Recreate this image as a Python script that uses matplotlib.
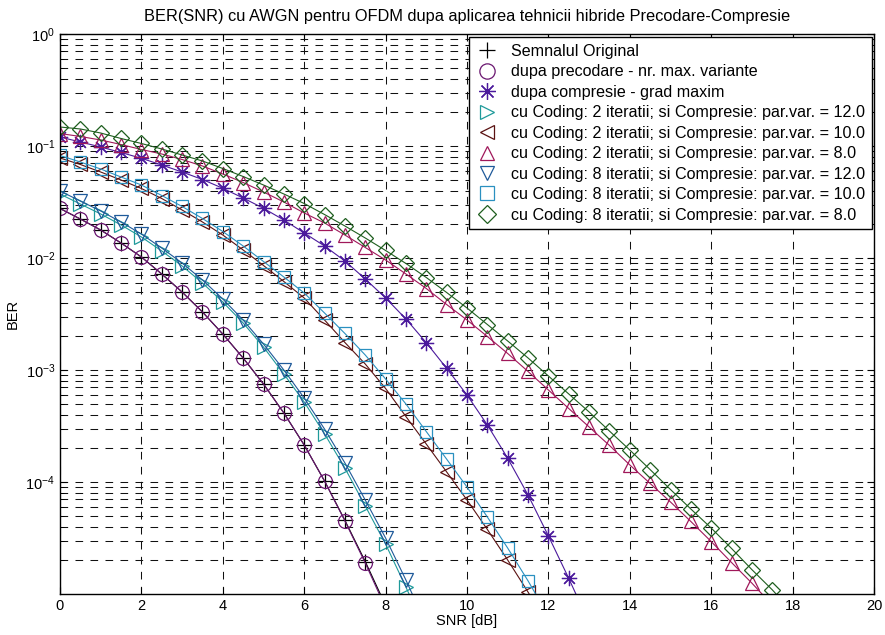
import numpy as np
import matplotlib
matplotlib.use("Agg")
import matplotlib.pyplot as plt
from matplotlib.lines import Line2D

plt.rcParams['font.family'] = ['Liberation Sans', 'DejaVu Sans']
plt.rcParams['mathtext.fontset'] = 'custom'
plt.rcParams['mathtext.rm'] = 'Liberation Sans'
plt.rcParams['mathtext.it'] = 'Liberation Sans:italic'
plt.rcParams['mathtext.bf'] = 'Liberation Sans:bold'
plt.rcParams['lines.scale_dashes'] = False

# ---------------- data ----------------
snr_orig = [0, 0.5, 1, 1.5, 2, 2.5, 3, 3.5, 4, 4.5, 5, 5.5, 6, 6.5, 7, 7.5, 8]
ber_orig = [0.02767, 0.02228, 0.01778, 0.01361, 0.01021, 0.007194, 0.004966, 0.003296,
            0.002094, 0.001279, 7.50e-4, 4.13e-4, 2.14e-4, 1.02e-4, 4.55e-5, 1.95e-5, 7.9e-6]
ber_prec = [0.02767, 0.02228, 0.01778, 0.01361, 0.01021, 0.007194, 0.004966, 0.003296,
            0.002094, 0.001279, 7.50e-4, 4.13e-4, 2.14e-4, 1.02e-4, 4.49e-5, 1.89e-5, 7.5e-6]

snr_comp = [0, 0.5, 1, 1.5, 2, 2.5, 3, 3.5, 4, 4.5, 5, 5.5, 6, 6.5, 7, 7.5, 8, 8.5, 9,
            9.5, 10, 10.5, 11, 11.5, 12, 12.5, 13]
ber_comp = [0.1203, 0.1086, 0.09797, 0.08750, 0.07765, 0.06767, 0.05859, 0.05022, 0.04192,
            0.03433, 0.02778, 0.02184, 0.01672, 0.01280, 0.009401, 0.006494, 0.004394,
            0.002853, 0.001752, 0.001035, 5.98e-4, 3.23e-4, 1.63e-4, 7.65e-5, 3.30e-5,
            1.38e-5, 5.51e-6]

snr_c12 = [0, 0.5, 1, 1.5, 2, 2.5, 3, 3.5, 4, 4.5, 5, 5.5, 6, 6.5, 7, 7.5, 8, 8.5, 9]
ber_c2_12 = [0.03724, 0.03034, 0.02472, 0.01972, 0.01540, 0.01155, 0.008492, 0.005984,
             0.004046, 0.002630, 0.001603, 9.20e-4, 5.18e-4, 2.69e-4, 1.33e-4, 6.11e-5,
             2.79e-5, 1.15e-5, 4.58e-6]
ber_c8_12 = [0.03963, 0.03228, 0.02630, 0.02094, 0.01637, 0.01227, 0.009016, 0.006368,
             0.004305, 0.002793, 0.001706, 1.0e-3, 5.62e-4, 2.97e-4, 1.48e-4, 6.90e-5,
             3.16e-5, 1.33e-5, 5.28e-6]

snr_c10 = [0, 0.5, 1, 1.5, 2, 2.5, 3, 3.5, 4, 4.5, 5, 5.5, 6, 6.5, 7, 7.5, 8, 8.5, 9,
           9.5, 10, 10.5, 11, 11.5, 12]
ber_c2_10 = [0.07815, 0.06837, 0.05859, 0.04971, 0.04174, 0.03398, 0.02683, 0.02097,
             0.01604, 0.01179, 0.008570, 0.006168, 0.004394, 0.002795, 0.001760, 0.001131,
             6.84e-4, 3.84e-4, 2.18e-4, 1.23e-4, 6.91e-5, 3.77e-5, 2.01e-5, 1.04e-5, 5.18e-6]
ber_c8_10 = [0.08228, 0.07197, 0.06231, 0.05286, 0.04486, 0.03614, 0.02884, 0.02253,
             0.01724, 0.01280, 0.009305, 0.006767, 0.004870, 0.003228, 0.002118, 0.001361,
             8.31e-4, 4.97e-4, 2.82e-4, 1.60e-4, 9.02e-5, 4.87e-5, 2.57e-5, 1.31e-5, 6.36e-6]

snr_c8a = [0, 0.5, 1, 1.5, 2, 2.5, 3, 3.5, 4, 4.5, 5, 5.5, 6, 6.5, 7, 7.5, 8, 8.5, 9,
           9.5, 10, 10.5, 11, 11.5, 12, 12.5, 13, 13.5, 14, 14.5, 15, 15.5, 16, 16.5, 17, 17.5]
ber_c2_8 = [0.1293, 0.1216, 0.1131, 0.1031, 0.09305, 0.08484, 0.07577, 0.06629, 0.05623,
            0.04721, 0.03884, 0.03162, 0.02523, 0.02054, 0.01604, 0.01241, 0.009596,
            0.007197, 0.005341, 0.003843, 0.002795, 0.001991, 0.001404, 9.70e-4, 6.63e-4,
            4.53e-4, 3.10e-4, 2.12e-4, 1.42e-4, 9.70e-5, 6.63e-5, 4.44e-5, 2.94e-5,
            1.91e-5, 1.25e-5, 7.98e-6]

snr_c8b = [0, 0.5, 1, 1.5, 2, 2.5, 3, 3.5, 4, 4.5, 5, 5.5, 6, 6.5, 7, 7.5, 8, 8.5, 9,
           9.5, 10, 10.5, 11, 11.5, 12, 12.5, 13, 13.5, 14, 14.5, 15, 15.5, 16, 16.5, 17,
           17.5, 18]
ber_c8_8 = [0.1478, 0.1419, 0.1306, 0.1167, 0.1053, 0.09401, 0.08311, 0.07346, 0.06296,
            0.05341, 0.04486, 0.03728, 0.03066, 0.02444, 0.01931, 0.01509, 0.01167,
            0.008931, 0.006697, 0.004920, 0.003578, 0.002548, 0.001815, 0.001280, 8.84e-4,
            6.11e-4, 4.22e-4, 2.85e-4, 1.93e-4, 1.29e-4, 8.57e-5, 5.74e-5, 3.88e-5,
            2.55e-5, 1.65e-5, 1.09e-5, 6.91e-6]

labels = ["Semnalul Original",
          "dupa precodare - nr. max. variante",
          "dupa compresie - grad maxim",
          "cu Coding: 2 iteratii; si Compresie: par.var. = 12.0",
          "cu Coding: 2 iteratii; si Compresie: par.var. = 10.0",
          "cu Coding: 2 iteratii; si Compresie: par.var. = 8.0",
          "cu Coding: 8 iteratii; si Compresie: par.var. = 12.0",
          "cu Coding: 8 iteratii; si Compresie: par.var. = 10.0",
          "cu Coding: 8 iteratii; si Compresie: par.var. = 8.0"]

title = "BER(SNR) cu AWGN pentru OFDM dupa aplicarea tehnicii hibride Precodare-Compresie"

# ---------------- figure ----------------
fig = plt.figure(figsize=(8.85, 6.35), dpi=100)
ax = fig.add_axes([60/885, 41/635, 814/885, 560/635])

asterisk = (8, 2, 0)
series = [
    (snr_orig, ber_orig, '+', '#000000', 11),
    (snr_orig, ber_prec, 'o', '#6a1670', 10),
    (snr_comp, ber_comp, asterisk, '#4b1a9c', 11),
    (snr_c12, ber_c2_12, '>', '#1f9a9a', 9.5),
    (snr_c10, ber_c2_10, '<', '#5a1212', 9.5),
    (snr_c8a, ber_c2_8, '^', '#a0185a', 9.5),
    (snr_c12, ber_c8_12, 'v', '#1f5a9a', 9.5),
    (snr_c10, ber_c8_10, 's', '#2a90c0', 9),
    (snr_c8b, ber_c8_8, 'D', '#1e5e1e', 8),
]

handles = []
for (x, y, m, c, ms), lab in zip(series, labels):
    ax.plot(x, y, color=c, lw=0.8, marker=m, ms=ms, mfc='none', mec=c, mew=0.9,
            clip_on=True)
    handles.append(Line2D([], [], ls='none', marker=m, ms=ms + 1, mfc='none', mec=c,
                          mew=0.9, color=c))

ax.set_yscale('log')
ax.set_xlim(0, 20)
ax.set_ylim(1e-5, 1)
ax.set_xticks(np.arange(0, 21, 2))
ax.set_yticks([1e-4, 1e-3, 1e-2, 1e-1, 1e0])
ax.yaxis.set_minor_locator(matplotlib.ticker.LogLocator(base=10, subs=np.arange(2, 10)))
ax.yaxis.set_minor_formatter(matplotlib.ticker.NullFormatter())

grid_ls = (0, (5.5, 5.3))
ax.grid(True, which='major', axis='both', color='#111111', ls=grid_ls, lw=0.75)
ax.grid(True, which='minor', axis='y', color='#111111', ls=grid_ls, lw=0.75)

ax.tick_params(which='both', direction='in', top=True, right=True, labelsize=10.5)
ax.tick_params(which='major', length=5)
ax.tick_params(which='minor', length=3)
for sp in ax.spines.values():
    sp.set_linewidth(1.0)

ax.set_title(title, fontsize=11.8, pad=9)
ax.set_xlabel("SNR [dB]", fontsize=10.5, labelpad=1)
ax.set_ylabel("BER", fontsize=10.5, labelpad=4)

leg = ax.legend(handles, labels, loc='upper right', bbox_to_anchor=(0.9975, 0.9946),
                borderaxespad=0, fontsize=11.6, frameon=True, fancybox=False,
                handlelength=1.4, handletextpad=0.8, labelspacing=0.34,
                borderpad=0.42)
leg.get_frame().set_edgecolor('black')
leg.get_frame().set_linewidth(1.0)
leg.get_frame().set_alpha(1)

fig.savefig("out.png", dpi=100)
